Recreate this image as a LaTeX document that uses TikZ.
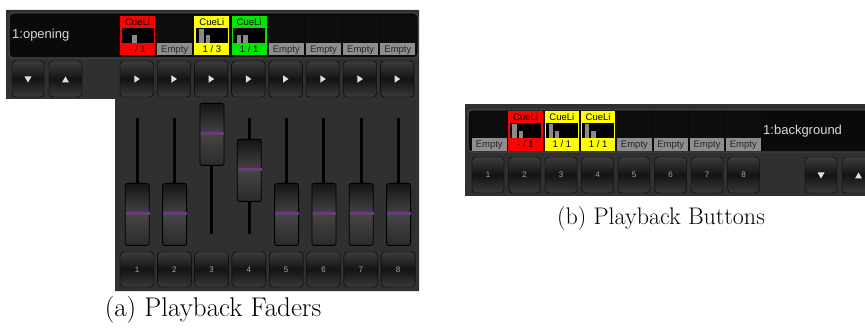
\documentclass[tikz,border=0pt]{standalone}
\usepackage{fontspec}
\newfontfamily\uifont{Liberation Sans}
\definecolor{panel}{HTML}{303030}
\definecolor{disp}{HTML}{0A0A0A}
\definecolor{dispedge}{HTML}{4C4C4C}
\definecolor{slotbk}{HTML}{0E0E0E}
\definecolor{slotgray}{HTML}{8E8E8E}
\definecolor{cred}{HTML}{FF0000}
\definecolor{cyel}{HTML}{FFFF00}
\definecolor{cgrn}{HTML}{00E800}
\definecolor{barg}{HTML}{8A8A8A}
\definecolor{fpurple}{HTML}{7E2C96}
\definecolor{btnA}{HTML}{3C3C3C}
\definecolor{btnC}{HTML}{141414}
\definecolor{btnB}{HTML}{3A3A3A}
\definecolor{knobA}{HTML}{151515}
\definecolor{knobC}{HTML}{454545}
\definecolor{knobB}{HTML}{2A2A2A}
\def\sw{35}
\def\sh{39}
\newcommand\EmptySlot[3]{%
  \fill[slotbk] (#2,#3) rectangle ++(\sw,27);
  \fill[slotgray] (#2,#3+27) rectangle ++(\sw,\sh-27);
  \node[emptytext] (#1) at (#2+\sw/2,#3+33.8) {Empty};}
\newcommand\CueSlot[6]{%
  \fill[#4] (#2,#3) rectangle ++(\sw,\sh);
  \node[slottext] (#1t) at (#2+\sw/2,#3+6.5) {CueLi};
  \fill[black] (#2+1.5,#3+12) rectangle ++(\sw-3,15);
  \foreach \bo/\bt in {#6} {\fill[barg] (#2+\bo,#3+\bt) rectangle (#2+\bo+4.5,#3+27);}
  \node[slottext] (#1) at (#2+\sw/2,#3+33.5) {#5};}
\begin{document}
\begin{tikzpicture}[x=1pt,y=-1pt,
  nametext/.style={font=\uifont\fontsize{13}{15}\selectfont, text=white!85!black, inner sep=0, anchor=west},
  slottext/.style={font=\uifont\fontsize{9.5}{11}\selectfont, text=black, inner sep=0},
  emptytext/.style={slottext, text=black!85},
  btnnum/.style={font=\uifont\fontsize{8}{9}\selectfont, text=white!65!black},
  btn/.style={draw=black, rounded corners=4pt, top color=btnA, bottom color=btnB, middle color=btnC, inner sep=0},
  dispbox/.style={fill=disp, draw=dispedge, rounded corners=4pt, line width=1pt},
  arrowtri/.style={fill=white!88!black},
  track/.style={line width=3pt, black},
  knob/.style={draw=black, line width=0.8pt, rounded corners=2pt, top color=knobA, bottom color=knobB, middle color=knobC, minimum width=24pt, minimum height=62pt, inner sep=0, anchor=north},
  captext/.style={inner sep=0}
]
\useasboundingbox (0,0) rectangle (865,331);
\begin{scope}
\clip (0,0) rectangle (865,331);
% ================= panel (a) =================
\fill[panel] (6,10) -- (419,10) -- (419,291) -- (115,291) -- (115,99) -- (6,99) -- cycle;
\draw[dispbox] (9,13) rectangle (418,58);
\node[nametext] (nameA) at (12,35) {1:opening};
\CueSlot{sa1}{120}{16}{cred}{- / 1}{12/19}
\EmptySlot{sa2}{157.2}{16}
\CueSlot{sa3}{194.4}{16}{cyel}{1 / 3}{5/13.3,11.5/19}
\CueSlot{sa4}{231.6}{16}{cgrn}{1 / 1}{5/19,11.5/19}
\EmptySlot{sa5}{268.8}{16}
\EmptySlot{sa6}{306}{16}
\EmptySlot{sa7}{343.2}{16}
\EmptySlot{sa8}{380.4}{16}
% page buttons
\node[btn, minimum width=32pt, minimum height=36pt] (downA) at (28,79) {};
\node[btn, minimum width=33pt, minimum height=36pt] (upA) at (65.5,79) {};
\fill[arrowtri] (downA.center) ++(-3.5,-2.5) -- ++(7,0) -- ++(-3.5,6) -- cycle;
\fill[arrowtri] (upA.center) ++(-3.5,3.5) -- ++(7,0) -- ++(-3.5,-6) -- cycle;
% play buttons
\foreach \i in {1,...,8}{
  \node[btn, minimum width=33.5pt, minimum height=36pt] (play\i) at ({120+37.2*(\i-1)+16.75},79) {};
  \fill[arrowtri] (play\i.center) ++(-2.5,-3.7) -- ++(5.5,3.7) -- ++(-5.5,3.7) -- cycle;
}
% faders
\foreach \i/\kt in {1/183,2/183,3/103,4/139,5/183,6/183,7/183,8/183}{
  \coordinate (tt\i) at ({137.3+37.33*(\i-1)},118);
  \coordinate (tb\i) at ({137.3+37.33*(\i-1)},234);
  \draw[track] (tt\i) -- (tb\i);
  \node[knob] (knob\i) at ({137.3+37.33*(\i-1)},\kt) {};
  \draw[fpurple, line width=1.2pt] ([yshift=-30pt]knob\i.north west) ++(1,0) -- ([yshift=-30pt]knob\i.north east) ++(-1,0);
  \draw[white!30!black, line width=0.6pt] ([yshift=-31.2pt]knob\i.north west) ++(1,0) -- ([yshift=-31.2pt]knob\i.north east);
}
% fader buttons
\foreach \i in {1,...,8}{
  \node[btn, minimum width=34pt, minimum height=35pt] (fb\i) at ({120+37.3*(\i-1)+17},269.5) {};
  \node[btnnum] (fbn\i) at (fb\i.center) {\i};
}
% ================= panel (b) =================
\fill[panel] (465,104) rectangle (870,196);
\draw[dispbox] (468,110) rectangle (885,152);
\node[nametext] (nameB) at (763,131) {1:background};
\def\sw{34.5}
\def\sh{40}
\EmptySlot{sb1}{472}{111}
\CueSlot{sb2}{508.3}{111}{cred}{- / 1}{4/13.3,10.3/20}
\CueSlot{sb3}{544.6}{111}{cyel}{1 / 1}{4/13.3,10.3/20}
\CueSlot{sb4}{580.9}{111}{cyel}{1 / 1}{4/13.3,10.3/20}
\EmptySlot{sb5}{617.2}{111}
\EmptySlot{sb6}{653.5}{111}
\EmptySlot{sb7}{689.8}{111}
\EmptySlot{sb8}{726.1}{111}
\foreach \i in {1,...,8}{
  \node[btn, minimum width=32pt, minimum height=36pt] (bb\i) at ({472+36.5*(\i-1)+16},175) {};
  \node[btnnum] (bbn\i) at (bb\i.center) {\i};
}
\node[btn, minimum width=32pt, minimum height=36pt] (downB) at (821,175) {};
\node[btn, minimum width=33pt, minimum height=36pt] (upB) at (858.5,175) {};
\fill[arrowtri] (downB.center) ++(-3.5,-2.5) -- ++(7,0) -- ++(-3.5,6) -- cycle;
\fill[arrowtri] (upB.center) ++(-3.5,3.5) -- ++(7,0) -- ++(-3.5,-6) -- cycle;
\end{scope}
% captions
\node[captext, font=\fontsize{27}{31}\selectfont] (capA) at (213,310) {(a) Playback Faders};
\node[captext, font=\fontsize{24}{28}\selectfont] (capB) at (661,219) {(b) Playback Buttons};
\end{tikzpicture}
\end{document}
